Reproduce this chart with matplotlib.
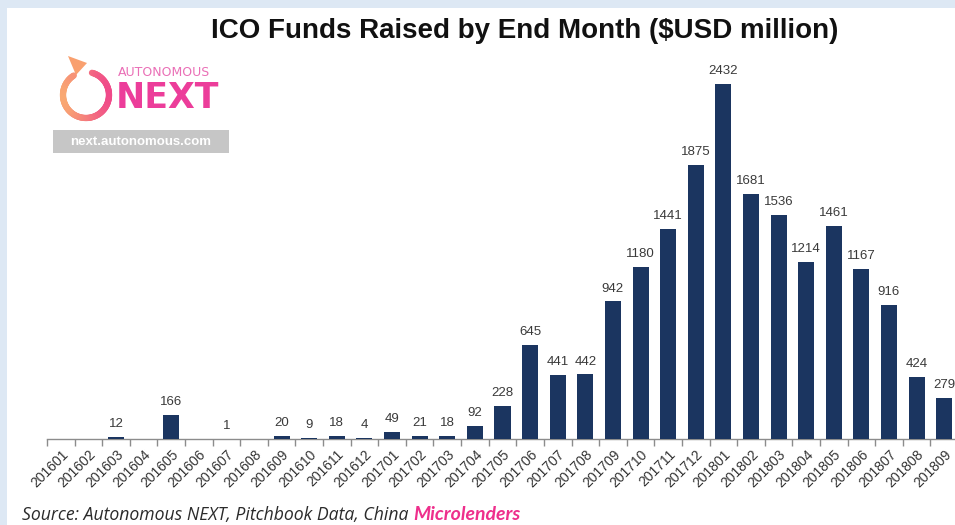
import numpy as np
import matplotlib
matplotlib.use("Agg")
import matplotlib.pyplot as plt
from matplotlib.patches import Rectangle, Polygon
from matplotlib.collections import LineCollection
from matplotlib.colors import to_rgb

# ---- data: ICO funds raised per month ($USD million) ----
months = ["201601", "201602", "201603", "201604", "201605", "201606",
          "201607", "201608", "201609", "201610", "201611", "201612",
          "201701", "201702", "201703", "201704", "201705", "201706",
          "201707", "201708", "201709", "201710", "201711", "201712",
          "201801", "201802", "201803", "201804", "201805", "201806",
          "201807", "201808", "201809"]
funds = [0, 0, 12, 0, 166, 0, 1, 0, 20, 9, 18, 4,
         49, 21, 18, 92, 228, 645, 441, 442, 942, 1180, 1441, 1875,
         2432, 1681, 1536, 1214, 1461, 1167, 916, 424, 279]

title = "ICO Funds Raised by End Month ($USD million)"
source_plain = "Source: Autonomous NEXT, Pitchbook Data, China"
source_bold = "Microlenders"

W, H = 955, 525
BAR = "#1b3560"
FRAME = "#dde8f4"

fig = plt.figure(figsize=(W / 100, H / 100), dpi=100)
fig.patch.set_facecolor(FRAME)

# white panel inside the light-blue frame (pixel coordinates, y down)
panel = fig.add_axes([0, 0, 1, 1], zorder=-5)
panel.set_xlim(0, W)
panel.set_ylim(H, 0)
panel.axis("off")
panel.add_patch(Rectangle((7, 8), W, H, facecolor="white", edgecolor="none"))

# ---- bar chart ----
left_px, right_px = 47, 958
base_px, ymax = 439, 2600
px_per_unit = 355 / 2432
top_px = base_px - ymax * px_per_unit
ax = fig.add_axes([left_px / W, (H - base_px) / H,
                   (right_px - left_px) / W, (base_px - top_px) / H])
ax.set_facecolor("none")
x = np.arange(len(months))
ax.bar(x, funds, width=0.58, color=BAR, zorder=3)
ax.set_xlim(-0.5, len(months) - 0.5)
ax.set_ylim(0, ymax)

for xi, v in zip(x, funds):
    if v > 0:
        ax.annotate(f"{v}", (xi, v), xytext=(0, 5), textcoords="offset points",
                    ha="center", va="bottom", fontsize=9.5,
                    family="Liberation Sans", color="#3a3a3a")

for s in ("left", "right", "top"):
    ax.spines[s].set_visible(False)
ax.spines["bottom"].set_color("#8c8c8c")
ax.spines["bottom"].set_linewidth(1.0)
ax.set_yticks([])
ax.set_xticks(x)
ax.set_xticklabels(months, rotation=45, ha="right", va="top",
                   rotation_mode="anchor", fontsize=10,
                   family="Liberation Sans", color="#333333")
ax.tick_params(axis="x", which="major", length=0, pad=6)
ax.set_xticks(np.arange(-0.5, len(months), 1.0), minor=True)
ax.tick_params(axis="x", which="minor", length=5, color="#8c8c8c", width=1.0)

# ---- title ----
fig.text(525 / W, 1 - 31 / H, title, ha="center", va="center",
         fontsize=20, fontweight="bold", family="Liberation Sans",
         color="#111111")

# ---- logo: circular arrow with horizontal orange-to-pink gradient ----
cx, cy, r = 86, 95, 23
ang = np.linspace(np.deg2rad(75), np.deg2rad(122 - 360), 120)
pts = np.column_stack([cx + r * np.cos(ang), cy - r * np.sin(ang)])
segs = np.stack([pts[:-1], pts[1:]], axis=1)
c0, c1 = np.array(to_rgb("#f9a872")), np.array(to_rgb("#f04a8a"))
mid_x = segs[:, :, 0].mean(axis=1)
t = np.clip((mid_x - (cx - r)) / (2 * r), 0, 1)
cols = [tuple(c0 * (1 - ti) + c1 * ti) for ti in t]
panel.add_collection(LineCollection(segs, colors=cols, linewidths=4.5,
                                    capstyle="round"))
panel.add_patch(Polygon([[68, 56], [87, 63], [76, 75]], closed=True,
                        facecolor="#f9a06f", edgecolor="none"))
panel.text(118, 73, "AUTONOMOUS", fontsize=9, color="#ea6fb6",
           family="Liberation Sans Narrow", va="center", ha="left")
panel.text(116, 98, "NEXT", fontsize=25, color="#ec3d9a", fontweight="bold",
           family="Liberation Sans Narrow", va="center", ha="left")
panel.add_patch(Rectangle((53, 130), 176, 23, facecolor="#c6c6c6",
                          edgecolor="none"))
panel.text(141, 142, "next.autonomous.com", fontsize=9.5, color="white",
           fontweight="bold", family="Liberation Sans", ha="center",
           va="center")

# ---- source line ----
t1 = panel.text(22, 520, source_plain, fontsize=12.7, style="italic",
                family="Open Sans", color="#2b2b2b", va="baseline", ha="left")
fig.canvas.draw()
x_end = t1.get_window_extent().x1
panel.annotate(source_bold, xy=(x_end + 5, H - 520), xycoords="figure pixels",
               fontsize=14, style="italic", fontweight="bold", family="Lato",
               color="#ee2f8c", va="baseline", ha="left")

fig.savefig("out.png", dpi=100, facecolor=fig.get_facecolor())
